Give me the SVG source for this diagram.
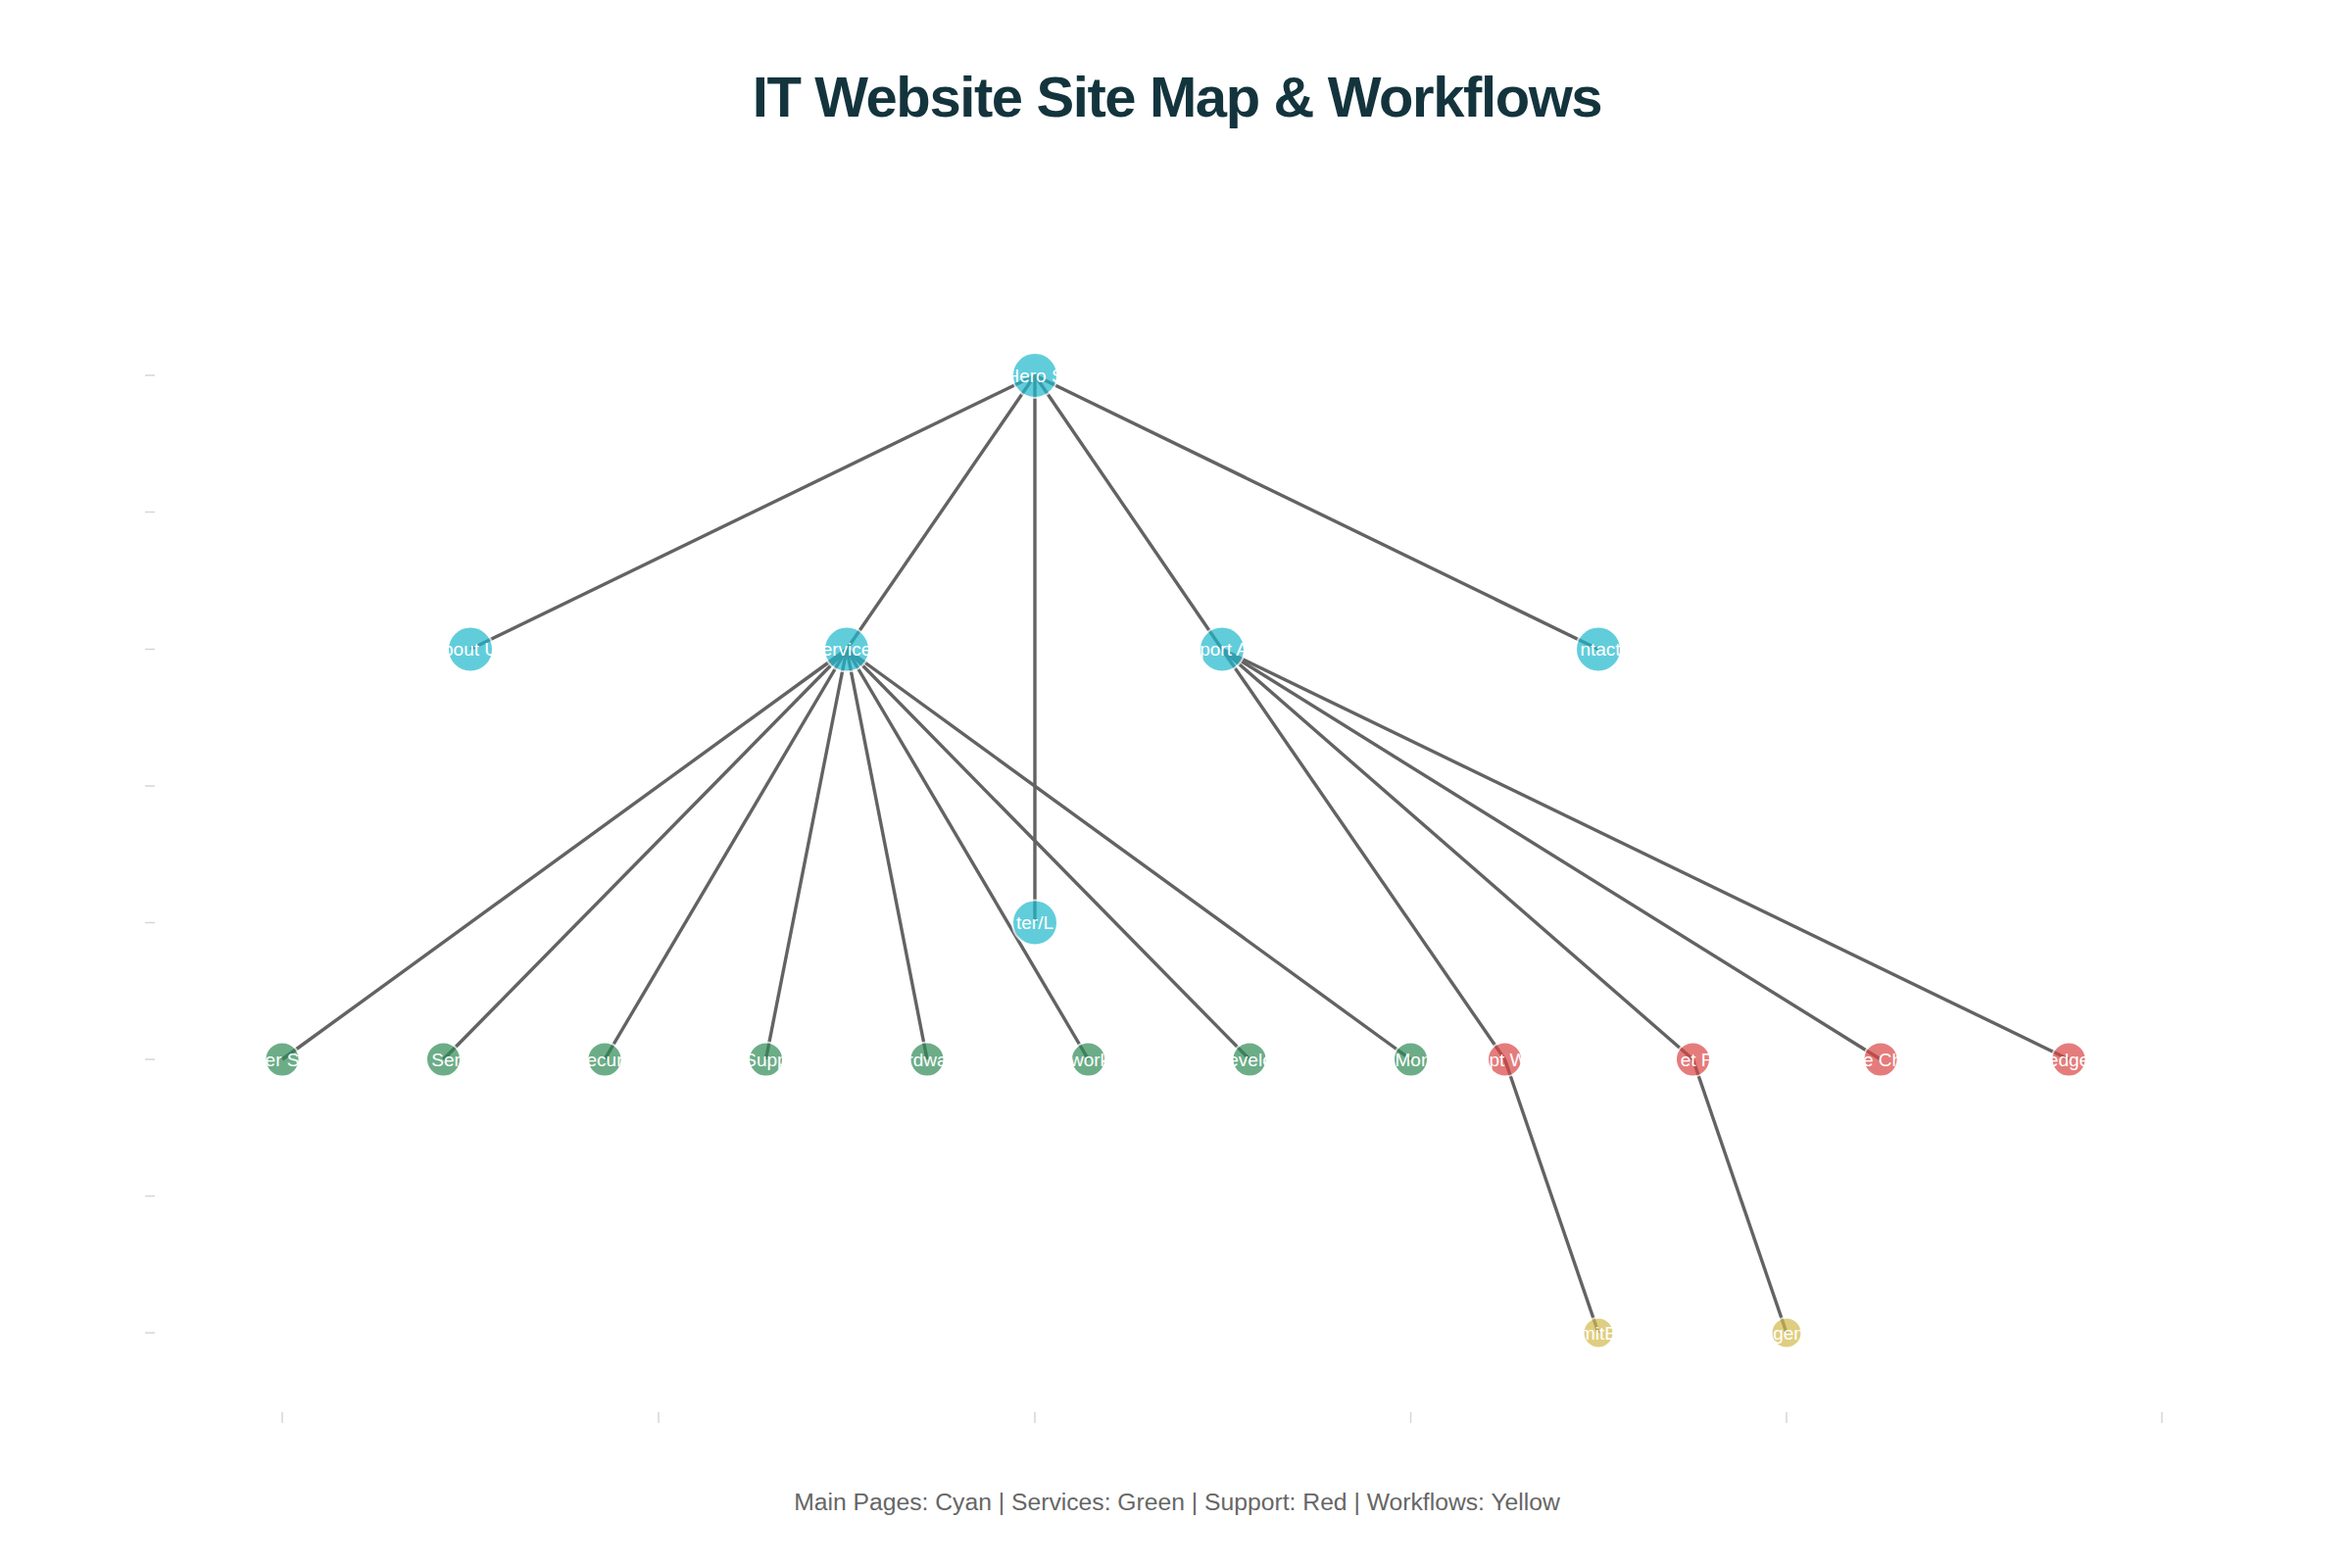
<svg xmlns="http://www.w3.org/2000/svg" width="2400" height="1600" viewBox="0 0 2400 1600">
<style>
.title{font-family:"Liberation Sans",Arial,sans-serif;font-weight:bold;font-size:58px;fill:#14343d;letter-spacing:-1.4px}
.note{font-family:"Liberation Sans",Arial,sans-serif;font-size:24.7px;fill:#666666}
.edge{stroke:#636363;stroke-width:3.4;fill:none}
.tick{stroke:#d6d6d6;stroke-width:1.5}
.node circle{opacity:0.7;stroke:#ffffff;stroke-width:2}
.main circle{fill:#1FB8CD}
.svc circle{fill:#2E8B57}
.sup circle{fill:#DB4545}
.wf circle{fill:#D2BA4C}
.node text{font-family:"Liberation Sans",Arial,sans-serif;font-size:19px;fill:#ffffff;text-anchor:middle;dominant-baseline:central}
</style>
<rect width="2400" height="1600" fill="#ffffff"/>
<text class="title" x="1201" y="119" text-anchor="middle">IT Website Site Map &amp; Workflows</text>
<g id="axes">
<line class="tick" x1="148" y1="383" x2="158" y2="383"/>
<line class="tick" x1="148" y1="522.5" x2="158" y2="522.5"/>
<line class="tick" x1="148" y1="662.5" x2="158" y2="662.5"/>
<line class="tick" x1="148" y1="802" x2="158" y2="802"/>
<line class="tick" x1="148" y1="941.5" x2="158" y2="941.5"/>
<line class="tick" x1="148" y1="1081" x2="158" y2="1081"/>
<line class="tick" x1="148" y1="1220.5" x2="158" y2="1220.5"/>
<line class="tick" x1="148" y1="1360" x2="158" y2="1360"/>
<line class="tick" x1="288" y1="1441" x2="288" y2="1452"/>
<line class="tick" x1="672" y1="1441" x2="672" y2="1452"/>
<line class="tick" x1="1056" y1="1441" x2="1056" y2="1452"/>
<line class="tick" x1="1439.5" y1="1441" x2="1439.5" y2="1452"/>
<line class="tick" x1="1823" y1="1441" x2="1823" y2="1452"/>
<line class="tick" x1="2206" y1="1441" x2="2206" y2="1452"/>
</g>
<g id="connectors">
<line class="edge" x1="1056" y1="383" x2="480" y2="662.5"/>
<line class="edge" x1="1056" y1="383" x2="864" y2="662.5"/>
<line class="edge" x1="1056" y1="383" x2="1056" y2="941.5"/>
<line class="edge" x1="1056" y1="383" x2="1247" y2="662.5"/>
<line class="edge" x1="1056" y1="383" x2="1631" y2="662.5"/>
<line class="edge" x1="864" y1="662.5" x2="288" y2="1081"/>
<line class="edge" x1="864" y1="662.5" x2="452.5" y2="1081"/>
<line class="edge" x1="864" y1="662.5" x2="617" y2="1081"/>
<line class="edge" x1="864" y1="662.5" x2="781.5" y2="1081"/>
<line class="edge" x1="864" y1="662.5" x2="946" y2="1081"/>
<line class="edge" x1="864" y1="662.5" x2="1110.5" y2="1081"/>
<line class="edge" x1="864" y1="662.5" x2="1275" y2="1081"/>
<line class="edge" x1="864" y1="662.5" x2="1439.5" y2="1081"/>
<line class="edge" x1="1247" y1="662.5" x2="1535.5" y2="1081"/>
<line class="edge" x1="1247" y1="662.5" x2="1727.5" y2="1081"/>
<line class="edge" x1="1247" y1="662.5" x2="1919" y2="1081"/>
<line class="edge" x1="1247" y1="662.5" x2="2111" y2="1081"/>
<line class="edge" x1="1535.5" y1="1081" x2="1631" y2="1360"/>
<line class="edge" x1="1727.5" y1="1081" x2="1823" y2="1360"/>
</g>
<g id="hero" class="node main"><circle cx="1056" cy="383" r="23"/><text x="1056" y="383">Hero S</text></g>
<g id="about" class="node main"><circle cx="480" cy="662.5" r="23"/><text x="480" y="662.5">bout U</text></g>
<g id="services" class="node main"><circle cx="864" cy="662.5" r="23"/><text x="864" y="662.5">ervice</text></g>
<g id="support" class="node main"><circle cx="1247" cy="662.5" r="23"/><text x="1249" y="662.5">port A</text></g>
<g id="contact" class="node main"><circle cx="1631" cy="662.5" r="23"/><text x="1633" y="662.5">ntact</text></g>
<g id="footer" class="node main"><circle cx="1056" cy="941.5" r="23"/><text x="1056" y="941.5">ter/L</text></g>
<g id="svc1" class="node svc"><circle cx="288" cy="1081" r="17.5"/><text x="288" y="1081">er S</text></g>
<g id="svc2" class="node svc"><circle cx="452.5" cy="1081" r="17.5"/><text x="455" y="1081">Ser</text></g>
<g id="svc3" class="node svc"><circle cx="617" cy="1081" r="17.5"/><text x="617" y="1081">ecur</text></g>
<g id="svc4" class="node svc"><circle cx="781.5" cy="1081" r="17.5"/><text x="781.5" y="1081">Supp</text></g>
<g id="svc5" class="node svc"><circle cx="946" cy="1081" r="17.5"/><text x="946" y="1081">rdwa</text></g>
<g id="svc6" class="node svc"><circle cx="1110.5" cy="1081" r="17.5"/><text x="1112" y="1081">work</text></g>
<g id="svc7" class="node svc"><circle cx="1275" cy="1081" r="17.5"/><text x="1276" y="1081">evelo</text></g>
<g id="svc8" class="node svc"><circle cx="1439.5" cy="1081" r="17.5"/><text x="1442" y="1081">Mon</text></g>
<g id="sup1" class="node sup"><circle cx="1535.5" cy="1081" r="17.5"/><text x="1539" y="1081">pt W</text></g>
<g id="sup2" class="node sup"><circle cx="1727.5" cy="1081" r="17.5"/><text x="1731" y="1081">et F</text></g>
<g id="sup3" class="node sup"><circle cx="1919" cy="1081" r="17.5"/><text x="1921" y="1081">e Ch</text></g>
<g id="sup4" class="node sup"><circle cx="2111" cy="1081" r="17.5"/><text x="2111" y="1081">edge</text></g>
<g id="wf1" class="node wf"><circle cx="1631" cy="1360" r="15.5"/><text x="1631" y="1360">mitB</text></g>
<g id="wf2" class="node wf"><circle cx="1823" cy="1360" r="15.5"/><text x="1825" y="1360">gen</text></g>
<text class="note" x="1201" y="1541" text-anchor="middle">Main Pages: Cyan | Services: Green | Support: Red | Workflows: Yellow</text>
</svg>
